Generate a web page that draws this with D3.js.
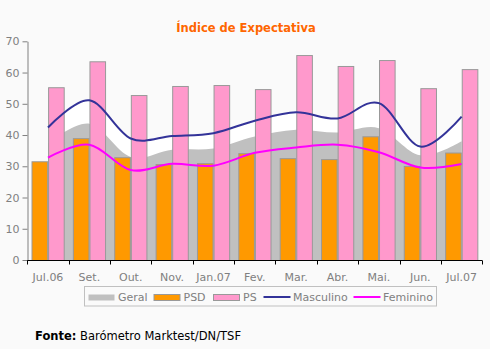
<!DOCTYPE html>
<html><head><meta charset="utf-8">
<script src="https://cdn.jsdelivr.net/npm/d3@7"></script>
<style>
html,body{margin:0;padding:0;background:#fafafa;}
svg{display:block;}
text{font-family:"DejaVu Sans",Verdana,sans-serif;}
</style></head>
<body>
<svg id="chart" width="490" height="349"></svg>
<script>
const categories = ["Jul.06","Set.","Out.","Nov.","Jan.07","Fev.","Mar.","Abr.","Mai.","Jun.","Jul.07"];
const geral     = [37.3, 43.6, 33.0, 35.3, 35.7, 39.5, 41.7, 40.8, 42.2, 33.5, 38.0];
const psd       = [31.6, 39.0, 32.9, 30.7, 31.0, 34.2, 32.6, 32.3, 39.6, 30.1, 34.4];
const ps        = [55.3, 63.6, 52.8, 55.7, 56.0, 54.7, 65.6, 62.1, 64.0, 55.0, 61.1];
const masculino = [42.4, 51.1, 38.9, 39.7, 40.6, 44.6, 47.3, 45.3, 50.2, 36.3, 45.9];
const feminino  = [32.8, 36.9, 28.8, 30.8, 30.2, 34.3, 36.0, 36.9, 34.5, 29.6, 30.7];
const yTicks    = [0, 10, 20, 30, 40, 50, 60, 70];
const barKeys   = ["PSD", "PS"];

const svg = d3.select("#chart");
const x = d3.scaleBand().domain(categories).range([27.3, 482.3]).padding(0);
const x1 = d3.scaleBand().domain(barKeys).range([4.2, 37.4]).padding(0);
const y = d3.scaleLinear().domain([0, 70]).range([260, 41.3]);
const cx = (d, i) => x(categories[i]) + x.bandwidth() / 2;
const curve = d3.curveCardinal.tension(0);

// Title
svg.append("text").attr("x", 246).attr("y", 31.5).attr("text-anchor", "middle")
  .attr("font-size", "11.5px").attr("font-weight", "bold").attr("fill", "#ff6600")
  .text("Índice de Expectativa");

const plot = svg.append("g");

// white area under Masculino
plot.append("path").datum(masculino)
  .attr("d", d3.area().x(cx).y0(y(0)).y1(d => y(d)).curve(curve))
  .attr("fill", "#ffffff");

// Geral area
plot.append("path").datum(geral)
  .attr("d", d3.area().x(cx).y0(y(0)).y1(d => y(d)).curve(curve))
  .attr("fill", "#c0c0c0");

// bars
const groups = plot.selectAll("g.cat").data(categories).join("g")
  .attr("transform", d => `translate(${x(d)},0)`);
groups.append("rect")
  .attr("x", x1("PSD") + 0.5).attr("width", x1.bandwidth() - 1)
  .attr("y", (d, i) => y(psd[i]) + 0.5).attr("height", (d, i) => y(0) - y(psd[i]))
  .attr("fill", "#ff9900").attr("stroke", "#999999").attr("stroke-width", 1);
groups.append("rect")
  .attr("x", x1("PS") + 0.5).attr("width", x1.bandwidth() - 1)
  .attr("y", (d, i) => y(ps[i]) + 0.5).attr("height", (d, i) => y(0) - y(ps[i]))
  .attr("fill", "#ff99cc").attr("stroke", "#999999").attr("stroke-width", 1);

// lines
plot.append("path").datum(masculino)
  .attr("d", d3.line().x(cx).y(d => y(d)).curve(curve))
  .attr("fill", "none").attr("stroke", "#333399").attr("stroke-width", 2);
plot.append("path").datum(feminino)
  .attr("d", d3.line().x(cx).y(d => y(d)).curve(curve))
  .attr("fill", "none").attr("stroke", "#ff00ff").attr("stroke-width", 2);

// y axis
const yAxis = svg.append("g").attr("transform", "translate(27.5,0)")
  .call(d3.axisLeft(y).tickValues(yTicks).tickSize(5).tickSizeOuter(0).tickPadding(3));
yAxis.select(".domain").attr("stroke", "#808080");
yAxis.selectAll(".tick line").attr("stroke", "#808080");
yAxis.selectAll("text").attr("font-size", "11px").attr("fill", "#808080")
  .attr("font-family", "DejaVu Sans, Verdana, sans-serif");

// x axis
const xAxis = svg.append("g").attr("transform", "translate(0,260.5)")
  .call(d3.axisBottom(x).tickSize(0).tickPadding(13));
xAxis.select(".domain").attr("stroke", "#000").attr("d", `M${27.3},0H${482.3}`);
xAxis.selectAll("text").attr("font-size", "11px").attr("fill", "#808080")
  .attr("font-family", "DejaVu Sans, Verdana, sans-serif");
xAxis.selectAll("line.bt").data(categories.concat(["end"])).join("line")
  .attr("class", "bt")
  .attr("x1", (d, i) => Math.round(i < categories.length ? x(d) : x.range()[1]) + 0.5)
  .attr("x2", (d, i) => Math.round(i < categories.length ? x(d) : x.range()[1]) + 0.5)
  .attr("y1", 0).attr("y2", 4).attr("stroke", "#000");

// legend
const lg = svg.append("g");
lg.append("rect").attr("x", 84.5).attr("y", 286.5).attr("width", 352).attr("height", 19.5)
  .attr("fill", "#fafafa").attr("stroke", "#c0c0c0");
const legendItems = [
  {name: "Geral", type: "rect", fill: "#c0c0c0", stroke: "none", x: 88.5},
  {name: "PSD", type: "rect", fill: "#ff9900", stroke: "#999999", x: 154},
  {name: "PS", type: "rect", fill: "#ff99cc", stroke: "#999999", x: 213.5},
  {name: "Masculino", type: "line", stroke: "#333399", x: 263.5},
  {name: "Feminino", type: "line", stroke: "#ff00ff", x: 353.5}
];
legendItems.forEach(it => {
  if (it.type === "rect") {
    lg.append("rect").attr("x", it.x).attr("y", 294.5).attr("width", 26).attr("height", 6)
      .attr("fill", it.fill).attr("stroke", it.stroke);
  } else {
    lg.append("line").attr("x1", it.x).attr("x2", it.x + 27).attr("y1", 297).attr("y2", 297)
      .attr("stroke", it.stroke).attr("stroke-width", 2);
  }
  lg.append("text").attr("x", it.x + 29.5).attr("y", 300.8).attr("font-size", "11px")
    .attr("fill", "#808080").text(it.name);
});

// source
const src = svg.append("text").attr("x", 35).attr("y", 339.5).attr("font-size", "11.5px").attr("fill", "#000");
src.append("tspan").attr("font-weight", "bold").text("Fonte:");
src.append("tspan").text(" Barómetro Marktest/DN/TSF");
</script>
</body></html>
